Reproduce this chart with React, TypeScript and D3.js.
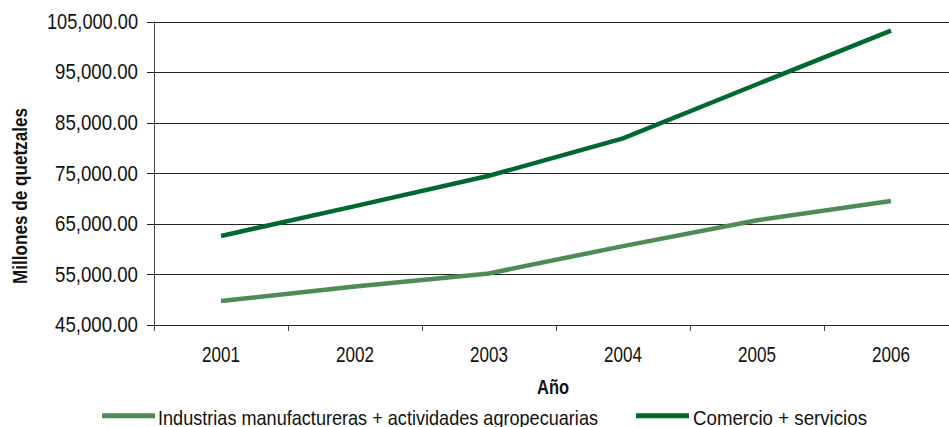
import * as d3 from "d3";

const years = ["2001", "2002", "2003", "2004", "2005", "2006"];
const industria = [49750, 52600, 55200, 60600, 65700, 69500];
const comercio = [62600, 68500, 74500, 81900, 92600, 103200];
const yTicks = [45000, 55000, 65000, 75000, 85000, 95000, 105000];
const seriesNames = ["Industrias manufactureras + actividades agropecuarias", "Comercio + servicios"];

const W = 949;
const H = 427;
// no condensed font installed, so Liberation Sans is squeezed to the original label widths
const FONT = "'Liberation Sans', Arial, sans-serif";
const LIGHT = "#4e8b57";
const DARK = "#006a2e";

export default function App() {
  const x = d3.scaleBand().domain(years).range([154, 958]).paddingInner(0).paddingOuter(0);
  const y = d3.scaleLinear().domain([45000, 105000]).range([325, 21.5]);
  const fmt = d3.format(",.2f");

  const line = d3
    .line<number>()
    .x((_, i) => (x(years[i]) ?? 0) + x.bandwidth() / 2)
    .y((d) => y(d));

  const bandEdges = years.map((yr) => x(yr) ?? 0).concat([x.range()[1]]);

  return (
    <svg
      width={W}
      height={H}
      style={{ position: "absolute", left: 0, top: 0, background: "#fff" }}
      fontFamily={FONT}
    >
      {/* gridlines */}
      {yTicks.map((t) => (
        <line key={t} x1={147} x2={W} y1={Math.round(y(t)) + 0.5} y2={Math.round(y(t)) + 0.5} stroke="#222" strokeWidth={1} />
      ))}
      {/* axes */}
      <line x1={154.5} x2={154.5} y1={y(105000)} y2={331} stroke="#444" strokeWidth={1} />
      {bandEdges.map((e, i) => (
        <line key={i} x1={Math.round(e) + 0.5} x2={Math.round(e) + 0.5} y1={325} y2={331} stroke="#444" strokeWidth={1} />
      ))}
      {yTicks.map((t) => {
        const s = fmt(t);
        return (
          <text
            key={t}
            x={138}
            y={y(t)}
            dy="0.34em"
            textAnchor="end"
            fontSize={21.5}
            fill="#111"
            textLength={s.length === 10 ? 91 : 83}
            lengthAdjust="spacingAndGlyphs"
          >
            {s}
          </text>
        );
      })}
      {years.map((yr) => (
        <text
          key={yr}
          x={(x(yr) ?? 0) + x.bandwidth() / 2}
          y={362}
          textAnchor="middle"
          fontSize={21.5}
          fill="#111"
          textLength={38}
          lengthAdjust="spacingAndGlyphs"
        >
          {yr}
        </text>
      ))}
      <text
        x={553}
        y={394}
        textAnchor="middle"
        fontSize={21}
        fontWeight="bold"
        fill="#111"
        textLength={32}
        lengthAdjust="spacingAndGlyphs"
      >
        Año
      </text>
      <text
        transform={`translate(27,196) rotate(-90)`}
        textAnchor="middle"
        fontSize={21}
        fontWeight="bold"
        fill="#111"
        textLength={176}
        lengthAdjust="spacingAndGlyphs"
      >
        Millones de quetzales
      </text>
      {/* series */}
      <path d={line(industria) ?? ""} fill="none" stroke={LIGHT} strokeWidth={4.5} />
      <path d={line(comercio) ?? ""} fill="none" stroke={DARK} strokeWidth={4.5} />
      {/* legend */}
      <line x1={102} x2={155} y1={415.7} y2={415.7} stroke={LIGHT} strokeWidth={5} />
      <text x={158} y={425} fontSize={21} fill="#111" textLength={440} lengthAdjust="spacingAndGlyphs">
        {seriesNames[0]}
      </text>
      <line x1={636} x2={689} y1={415.7} y2={415.7} stroke={DARK} strokeWidth={5} />
      <text x={693} y={425} fontSize={21} fill="#111" textLength={174} lengthAdjust="spacingAndGlyphs">
        {seriesNames[1]}
      </text>
    </svg>
  );
}
